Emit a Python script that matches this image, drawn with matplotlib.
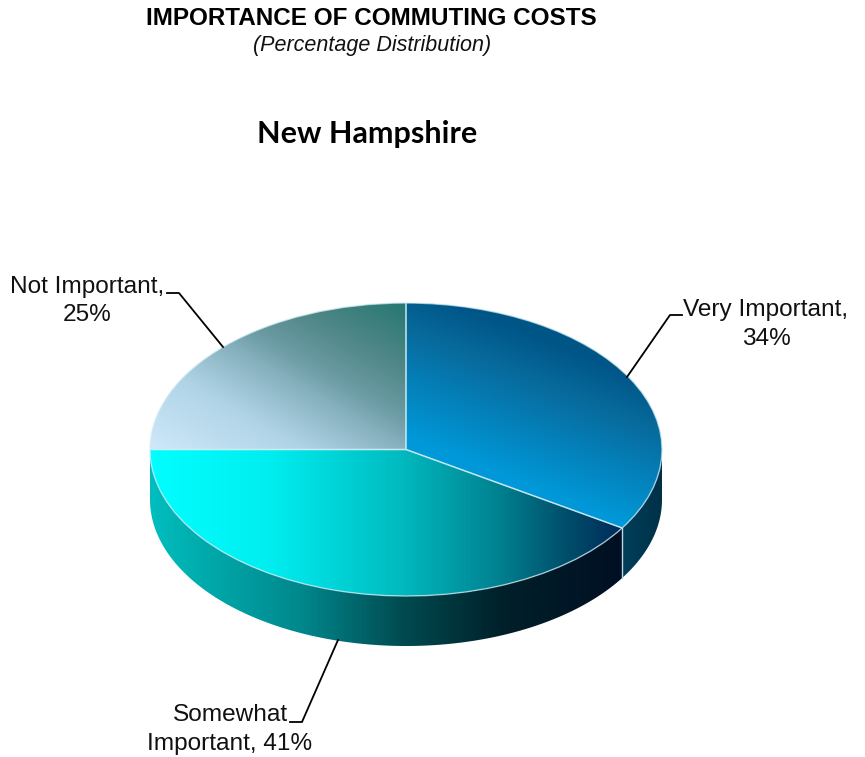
import numpy as np
import matplotlib
matplotlib.use('Agg')
import matplotlib.pyplot as plt
from matplotlib.lines import Line2D
from matplotlib.patches import Polygon

# Survey shares, clockwise from 12 o'clock
categories = ['Very Important', 'Somewhat Important', 'Not Important']
shares = [34, 41, 25]

WIDTH, HEIGHT = 865, 757
CX, CY = 406, 449.5     # pie centre in pixels
RX, RY = 256, 146.5     # ellipse radii in pixels
DEPTH = 50 / RY         # wall height in pie units

plt.rcParams['font.family'] = ['Liberation Sans', 'DejaVu Sans']


# Position in figure fractions from a pixel position (y measured downwards)
def fx(x):
    return x / WIDTH


def fy(y):
    return 1 - y / HEIGHT


# RGB image holding a linear ramp running from point a to point b (pixels)
def ramp(a, b, stops):
    yy, xx = np.mgrid[0:HEIGHT, 0:WIDTH]
    dx, dy = b[0] - a[0], b[1] - a[1]
    t = ((xx - a[0]) * dx + (yy - a[1]) * dy) / (dx * dx + dy * dy)
    pos = [s[0] for s in stops]
    img = np.zeros((HEIGHT, WIDTH, 3))
    for c in range(3):
        img[..., c] = np.interp(t, pos, [s[1][c] / 255 for s in stops])
    return img


fig = plt.figure(figsize=(WIDTH / 100, HEIGHT / 100), dpi=100, facecolor='white')
ax = fig.add_axes([0, 0, 1, 1])
xlim = ((0 - CX) / RX, (WIDTH - CX) / RX)
ylim = ((CY - HEIGHT) / RY, CY / RY)

wedges, _ = ax.pie(shares, startangle=90, counterclock=False, radius=1,
                   wedgeprops=dict(facecolor='none', edgecolor=(0.82, 0.93, 0.96, 0.7),
                                   linewidth=1.0, zorder=5))
ax.set_aspect('auto')

# Top surface colours
top_ramps = [
    ramp((420, 440), (472, 310), [(0, (0, 152, 216)), (0.7, (8, 106, 156)), (1, (0, 85, 135))]),
    ramp((150, 0), (625, 0), [(0, (0, 255, 255)), (0.25, (0, 238, 240)), (0.52, (0, 188, 193)),
                              (0.73, (0, 130, 145)), (0.87, (0, 80, 108)), (1, (0, 40, 88))]),
    ramp((155, 450), (279, 234), [(0, (205, 232, 250)), (0.3, (176, 212, 230)), (0.5, (136, 178, 192)),
                                  (0.62, (106, 154, 162)), (0.78, (80, 135, 136)), (1, (40, 120, 115))]),
]
# Wall colours, only the lower half of the rim shows
wall_ramps = [
    ramp((625, 0), (662, 0), [(0, (0, 62, 88)), (1, (0, 48, 72))]),
    ramp((150, 0), (625, 0), [(0, (0, 190, 190)), (0.32, (0, 135, 140)), (0.53, (0, 75, 80)),
                              (0.74, (0, 32, 42)), (1, (0, 15, 35))]),
    None,
]
extent = (xlim[0], xlim[1], ylim[0], ylim[1])

for wedge, top, wall in zip(wedges, top_ramps, wall_ramps):
    im = ax.imshow(top, extent=extent, aspect='auto', interpolation='nearest', zorder=3)
    im.set_clip_path(wedge)
    if wall is None:
        continue
    t1 = max(wedge.theta1, -180)
    t2 = min(wedge.theta2, 0)
    th = np.radians(np.linspace(t1, t2, 200))
    xs = np.cos(th)
    ys = np.sin(th)
    outline = np.column_stack([np.r_[xs, xs[::-1]], np.r_[ys, ys[::-1] - DEPTH]])
    side = Polygon(outline, closed=True, facecolor='none', edgecolor='none')
    ax.add_patch(side)
    im = ax.imshow(wall, extent=extent, aspect='auto', interpolation='nearest', zorder=2)
    im.set_clip_path(side)

# Seam on the wall between the first two slices
seam = np.radians(wedges[0].theta1)
ax.plot([np.cos(seam)] * 2, [np.sin(seam), np.sin(seam) - DEPTH],
        color=(0.74, 0.85, 0.89), lw=1.0, zorder=4)

ax.set_xlim(xlim)
ax.set_ylim(ylim)
ax.axis('off')

# Headings
fig.text(fx(371.5), fy(18.5), 'IMPORTANCE OF COMMUTING COSTS', ha='center', va='center',
         fontsize=17.5, fontweight='bold', color='black')
fig.text(fx(372), fy(45), '(Percentage Distribution)', ha='center', va='center',
         fontsize=15.5, fontstyle='italic', color='#111111')
fig.text(fx(367.5), fy(134), 'New Hampshire', ha='center', va='center',
         fontsize=22, fontweight='bold', family=['Lato', 'DejaVu Sans'], color='black')

# Slice labels, each with its leader line
slice_labels = ['%s,\n%d%%' % (categories[0], shares[0]),
                'Somewhat\nImportant, %d%%' % shares[1],
                '%s,\n%d%%' % (categories[2], shares[2])]
label_pos = [(766, 324.5), (230, 729.5), (87, 301)]
leaders = [[(682, 315), (670, 315), (627, 377)],
           [(290, 722), (302, 722), (338, 640)],
           [(167, 293), (179, 293), (223, 347)]]

for text, pos, leader in zip(slice_labels, label_pos, leaders):
    fig.text(fx(pos[0]), fy(pos[1]), text, ha='center', va='center', fontsize=17.6,
             linespacing=1.36, color='#111111')
    fig.add_artist(Line2D([fx(p[0]) for p in leader], [fy(p[1]) for p in leader],
                          color='black', lw=1.3, zorder=6))

fig.savefig('out.png', dpi=100, facecolor='white')
